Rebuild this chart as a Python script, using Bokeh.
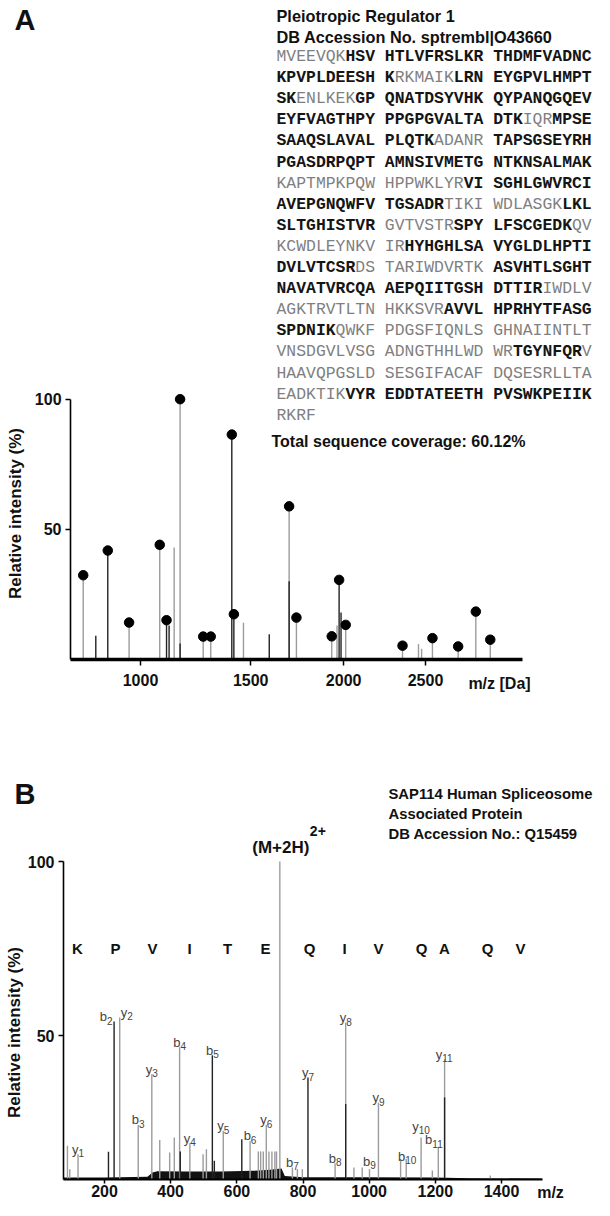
import numpy as np
from bokeh.plotting import figure
from bokeh.models import Range1d, FixedTicker, CustomJSTickFormatter, LinearAxis
from bokeh.layouts import column
from bokeh.core.properties import value
from bokeh.embed import file_html
from bokeh.resources import INLINE

SANS = value("Liberation Sans")
MONO = value("Liberation Mono")

# ======================= Panel A data =======================
a_title = ["Pleiotropic Regulator 1", "DB Accession No. sptrembl|O43660"]
seq_lines = [
    "MVEEVQKHSV HTLVFRSLKR THDMFVADNC",
    "KPVPLDEESH KRKMAIKLRN EYGPVLHMPT",
    "SKENLKEKGP QNATDSYVHK QYPANQGQEV",
    "EYFVAGTHPY PPGPGVALTA DTKIQRMPSE",
    "SAAQSLAVAL PLQTKADANR TAPSGSEYRH",
    "PGASDRPQPT AMNSIVMETG NTKNSALMAK",
    "KAPTMPKPQW HPPWKLYRVI SGHLGWVRCI",
    "AVEPGNQWFV TGSADRTIKI WDLASGKLKL",
    "SLTGHISTVR GVTVSTRSPY LFSCGEDKQV",
    "KCWDLEYNKV IRHYHGHLSA VYGLDLHPTI",
    "DVLVTCSRDS TARIWDVRTK ASVHTLSGHT",
    "NAVATVRCQA AEPQIITGSH DTTIRIWDLV",
    "AGKTRVTLTN HKKSVRAVVL HPRHYTFASG",
    "SPDNIKQWKF PDGSFIQNLS GHNAIINTLT",
    "VNSDGVLVSG ADNGTHHLWD WRTGYNFQRV",
    "HAAVQPGSLD SESGIFACAF DQSESRLLTA",
    "EADKTIKVYR EDDTATEETH PVSWKPEIIK",
    "RKRF",
]
# x = residue covered by identified peptides (bold), . = not covered
seq_masks = [
    ".......xxx xxxxxxxxxx xxxxxxxxxx",
    "xxxxxxxxxx x......xxx xxxxxxxxxx",
    "xx......xx xxxxxxxxxx xxxxxxxxxx",
    "xxxxxxxxxx xxxxxxxxxx xxx...xxxx",
    "xxxxxxxxxx xxxxx..... xxxxxxxxxx",
    "xxxxxxxxxx xxxxxxxxxx xxxxxxxxxx",
    ".......... ........xx xxxxxxxxxx",
    "xxxxxxxxxx xxxxxx.... .......xxx",
    "xxxxxxxxxx .......xxx xxxxxxxx..",
    ".......... ..xxxxxxxx xxxxxxxxxx",
    "xxxxxxxx.. .......... xxxxxxxxxx",
    "xxxxxxxxxx xxxxxxxxxx xxxxx.....",
    ".......... ......xxxx xxxxxxxxxx",
    "xxxxxx.... .......... ..........",
    ".......... .......... ..xxxxxxx.",
    ".......... .......... ..........",
    ".......xxx xxxxxxxxxx xxxxxxxxxx",
    "....",
]
a_coverage = "Total sequence coverage: 60.12%"

# matched peaks (with dots): m/z and relative intensity (%)
a_dot_mz = [780, 871, 954, 1080, 1109, 1168, 1272, 1307, 1407, 1417,
            1698, 1737, 1932, 1974, 2012, 2354, 2545, 2715, 2835, 2935]
a_dot_int = [32.3, 41.8, 14.1, 44.0, 15.0, 100, 8.7, 8.7, 86.4, 17.3,
             58.8, 16.0, 8.8, 30.5, 13.2, 5.2, 8.1, 4.9, 18.3, 7.5]
a_dot_dark = [0, 1, 0, 0, 1, 0, 0, 0, 1, 1, 0, 0, 0, 1, 0, 0, 0, 0, 0, 0]
# other (unmatched) peaks
a_minor_mz = [826, 1120, 1142, 1168, 1464, 1594, 1698, 1962, 1985, 2455, 2475]
a_minor_int = [9, 13, 43, 6, 14, 9.6, 30, 13, 18, 5.8, 4]
a_minor_dark = [1, 1, 0, 1, 0, 1, 1, 0, 1, 0, 0]
a_xticks = [1000, 1500, 2000, 2500]
a_yticks = [50, 100]
a_mz_lim = (735, 3165)

# ======================= Panel B data =======================
b_title = ["SAP114 Human Spliceosome", "Associated Protein", "DB Accession No.: Q15459"]
b_peptide = "KPVITEQIVQAQV"
b_ion_type = ["y", "b", "y", "b", "y", "b", "y", "b", "y", "b", "y",
              "b", "y", "b", "y", "b", "y", "b", "y", "b", "y"]
b_ion_num = [1, 2, 2, 3, 3, 4, 4, 5, 5, 6, 6, 7, 7, 8, 8, 9, 9, 10, 10, 11, 11]
b_ion_mz = [120, 229, 246, 302, 343, 427, 458, 526, 559, 640, 689,
            768, 815, 897, 929, 1001, 1028, 1112, 1157, 1209, 1228]
b_ion_int = [15.9, 54.0, 55.2, 24.3, 38.9, 46.6, 19.1, 44.3, 22.6, 19.7, 24.3,
             12.1, 37.9, 13.3, 53.7, 11.6, 30.7, 14.5, 20.7, 18.0, 43.2]
b_ion_dark = [0, 1, 0, 0, 0, 0, 0, 1, 0, 0, 0, 0, 1, 0, 0, 0, 0, 0, 0, 0, 0]
b_prec_label = ["(M+2H)", "2+"]
b_prec_mz = [730]
b_prec_int = [100]
b_minor_mz = [88, 95, 212, 367, 397, 411, 429, 498, 508, 532, 615, 665, 672, 680,
              697, 706, 715, 720, 783, 798, 954, 979, 1095, 1191, 1366, 929, 1228]
b_minor_int = [18.3, 11.6, 16.6, 20.0, 16.4, 20.7, 16.7, 15.9, 17.3, 14.0, 20.2, 16.7, 16.7, 16.7,
               16.7, 16.7, 16.7, 16.7, 11.6, 11.6, 12.1, 12.1, 14.5, 11.2, 9.8, 30.3, 32.2]
b_minor_dark = [0, 0, 1, 0, 0, 0, 1, 0, 0, 1, 1, 0, 0, 0,
                0, 0, 0, 0, 0, 0, 0, 0, 0, 0, 0, 1, 1]
b_noise_mz = [76, 200, 330, 345, 360, 450, 550, 650, 700, 735, 745, 800, 1000, 1200, 1300, 1523]
b_noise_int = [9.2, 9.2, 9.4, 10.6, 11.0, 10.9, 10.9, 11.1, 11.4, 11.8, 9.6, 9.3, 9.3, 9.2, 9.0, 8.9]
b_base = 8.6
b_xticks = [200, 400, 600, 800, 1000, 1200, 1400]
b_yticks = [50, 100]
b_mz_lim = (76, 1523)

# ======================= layout (page pixels) =======================
LIGHT, DARK = "#9c9c9c", "#222222"
A_TOP, A_BOT = 8, 728
B_TOP, B_BOT = 728, 1208


def lin_range(p0, v0, p1, v1, lo_px, hi_px):
    k = (v1 - v0) / (p1 - p0)
    return Range1d(v0 + (lo_px - p0) * k, v0 + (hi_px - p0) * k)


def make_fig(xr, yr, top, bottom):
    p = figure(width=594, height=bottom - top, x_range=xr, y_range=yr,
               x_axis_type=None, y_axis_type=None, output_backend="svg",
               toolbar_location=None, min_border=0)
    p.extra_x_ranges = {"px": Range1d(8, 602)}
    p.extra_y_ranges = {"px": Range1d(bottom, top)}
    p.outline_line_color = None
    return p


def ptext(p, x, y, t, size, bold=True, color="#111111", align="left", font=SANS, angle=0):
    p.text(x=x, y=y, text=t, x_range_name="px", y_range_name="px",
           text_font=font, text_font_size=size, text_font_style="bold" if bold else "normal",
           text_color=color, text_align=align, text_baseline="middle", angle=angle)


def style_axis(ax, lw, standoff, tick_out=6):
    ax.axis_line_width = lw
    ax.axis_line_color = "black"
    ax.major_tick_out = tick_out
    ax.major_tick_in = 0
    ax.minor_tick_out = 0
    ax.minor_tick_in = 0
    ax.major_tick_line_width = 1.5
    ax.major_label_text_font = "Liberation Sans"
    ax.major_label_text_font_style = "bold"
    ax.major_label_text_font_size = "16px"
    ax.major_label_text_color = "#111111"
    ax.major_label_standoff = standoff


# ---------------- Panel A ----------------
sq = np.sqrt
pA = make_fig(lin_range(148, sq(1000), 433, sq(2500), 8, 602),
              lin_range(666.7, 0, 406.7, 100, A_BOT, A_TOP), A_TOP, A_BOT)

mx = sq(np.array(a_minor_mz, float))
dx_ = sq(np.array(a_dot_mz, float))
all_x = list(mx) + list(dx_)
all_y = list(a_minor_int) + list(a_dot_int)
all_d = list(a_minor_dark) + list(a_dot_dark)
for flag, col in ((0, LIGHT), (1, DARK)):
    xs = [x for x, d in zip(all_x, all_d) if d == flag]
    ys = [y for y, d in zip(all_y, all_d) if d == flag]
    pA.segment(x0=xs, y0=[0] * len(xs), x1=xs, y1=ys, line_color=col, line_width=1.4)
pA.scatter(x=dx_, y=a_dot_int, size=9.5, fill_color="black", line_color="black")

axA_x = LinearAxis(fixed_location=0, bounds=(sq(a_mz_lim[0]), sq(a_mz_lim[1])),
                   ticker=FixedTicker(ticks=[float(v) for v in sq(np.array(a_xticks, float))]),
                   formatter=CustomJSTickFormatter(code="return String(Math.round(tick * tick));"))
style_axis(axA_x, 3.5, 9)
pA.add_layout(axA_x, "below")
axA_y = LinearAxis(fixed_location=float(sq(a_mz_lim[0])), bounds=(0, 100),
                   ticker=FixedTicker(ticks=a_yticks))
style_axis(axA_y, 1.6, 4, 5)
pA.add_layout(axA_y, "left")

ptext(pA, [22], [27], ["A"], "29px")
ptext(pA, [284, 284], [23, 44], a_title, "16.3px")
seq_x0, seq_cw, seq_y0, seq_dy = 284, 9.85, 64, 21.1
bx, by, bt, nx, ny, nt = [], [], [], [], [], []
for i, (line, mask) in enumerate(zip(seq_lines, seq_masks)):
    for j, (ch, m) in enumerate(zip(line, mask)):
        if ch == " ":
            continue
        x = seq_x0 + j * seq_cw + seq_cw / 2
        y = seq_y0 + i * seq_dy
        if m == "x":
            bx.append(x); by.append(y); bt.append(ch)
        else:
            nx.append(x); ny.append(y); nt.append(ch)
ptext(pA, bx, by, bt, "16.4px", True, "#151515", "center", MONO)
ptext(pA, nx, ny, nt, "16.4px", False, "#7f7f7f", "center", MONO)
ptext(pA, [279], [449], [a_coverage], "16px")
ptext(pA, [23], [521], ["Relative intensity (%)"], "17px", angle=np.pi / 2, align="center")
ptext(pA, [507], [691], ["m/z [Da]"], "16px", align="center")

# ---------------- Panel B ----------------
pB = make_fig(lin_range(112, 200, 509, 1400, 8, 602),
              lin_range(1043, 50, 869, 100, B_BOT, B_TOP), B_TOP, B_BOT)

pB.varea(x=b_noise_mz, y1=[b_base] * len(b_noise_mz), y2=b_noise_int, fill_color="#111111")
sx = list(b_minor_mz) + list(b_ion_mz) + b_prec_mz
sy = list(b_minor_int) + list(b_ion_int) + b_prec_int
sd = list(b_minor_dark) + list(b_ion_dark) + [0]
# dark overlays (lower parts of y8 / y11) are drawn after the light sticks
for flag, col in ((0, LIGHT), (1, DARK)):
    xs = [x for x, d in zip(sx, sd) if d == flag]
    ys = [y for y, d in zip(sy, sd) if d == flag]
    pB.segment(x0=xs, y0=[b_base] * len(xs), x1=xs, y1=ys, line_color=col, line_width=1.4)

axB_x = LinearAxis(fixed_location=b_base, bounds=b_mz_lim, ticker=FixedTicker(ticks=b_xticks))
style_axis(axB_x, 2.2, 1, 4)
pB.add_layout(axB_x, "below")
axB_y = LinearAxis(fixed_location=b_mz_lim[0], bounds=(b_base, 100), ticker=FixedTicker(ticks=b_yticks))
style_axis(axB_y, 1.6, 4, 5)
pB.add_layout(axB_y, "left")

# ion labels with subscripts
label_dx = [0, -8, 7, 0, 0, 0, 0, 0, 0, 0, 0, 0, 0, 0, 0, 0, 0, 1, 0, -4, 0]
label_dy = [0, 0, 0, 0, 0, 0, 0, 0, 0, 0, 0, 0, 0, 0, 0, -3, 0, 2, -6, -2, 0]
wl = {"b": 7.2, "y": 6.5}
lx, ly, lt, lxo, lyo, sxo, syo, st = [], [], [], [], [], [], [], []
for t, n, mz, it, ddx, ddy in zip(b_ion_type, b_ion_num, b_ion_mz, b_ion_int, label_dx, label_dy):
    w = wl[t] + 5.6 * len(str(n))
    left = ddx - w / 2
    lx.append(mz); ly.append(it); lt.append(t); lxo.append(left); lyo.append(-5 + ddy)
    st.append(str(n)); sxo.append(left + wl[t]); syo.append(-1 + ddy)
pB.text(x=lx, y=ly, text=lt, x_offset=lxo, y_offset=lyo, text_font=SANS, text_font_size="13px",
        text_color="#444444", text_align="left", text_baseline="alphabetic")
pB.text(x=lx, y=ly, text=st, x_offset=sxo, y_offset=syo, text_font=SANS, text_font_size="10px",
        text_color="#444444", text_align="left", text_baseline="alphabetic")
pB.text(x=b_prec_mz, y=b_prec_int, text=[b_prec_label[0]], x_offset=1, y_offset=-14,
        text_font=SANS, text_font_size="17px", text_font_style="bold", text_color="#111111",
        text_align="center", text_baseline="middle")
pB.text(x=b_prec_mz, y=b_prec_int, text=[b_prec_label[1]], x_offset=30, y_offset=-31,
        text_font=SANS, text_font_size="14px", text_font_style="bold", text_color="#111111",
        text_align="left", text_baseline="middle")

ptext(pB, [22], [801], ["B"], "29px")
ptext(pB, [396, 396, 396], [801, 821, 841], b_title, "14.8px")
pep_px = [85, 123, 160, 197, 235, 273, 317, 352, 386, 429, 452, 495, 528]
ptext(pB, pep_px, [956] * len(pep_px), list(b_peptide), "15px", align="center")
ptext(pB, [22], [1040], ["Relative intensity (%)"], "17px", angle=np.pi / 2, align="center")
ptext(pB, [558], [1200], ["m/z"], "16px", align="center")

layout = column(pA, pB)
open("out.html", "w").write(file_html(layout, INLINE))
